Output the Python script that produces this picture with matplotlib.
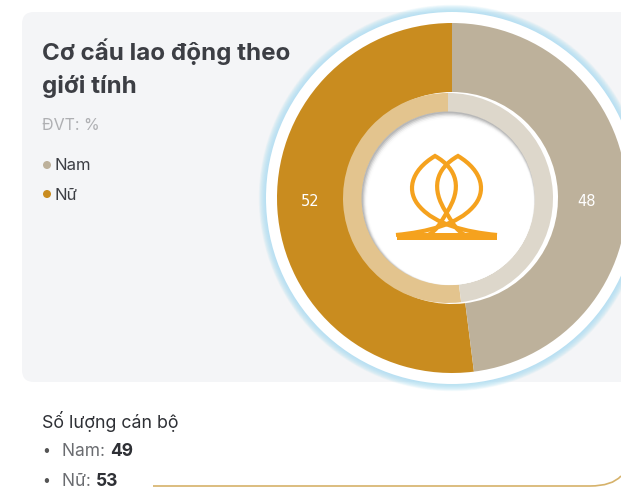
import matplotlib
matplotlib.use("Agg")
import matplotlib.pyplot as plt
from matplotlib.patches import Circle, FancyBboxPatch, PathPatch, Rectangle
from matplotlib.path import Path

# data
genders = ["Nữ", "Nam"]
shares = [52, 48]
counts = {"Nam": 49, "Nữ": 53}
outer_colors = ["#C98C1F", "#BDB19B"]
inner_colors = ["#E3C48E", "#DDD7CB"]

W, H = 621, 489
CX, CY = 452, 199  # donut centre in pixels
IN_DX = -4         # inner ring sits a little left of the outer ring

plt.rcParams["font.family"] = ["Inter", "DejaVu Sans"]
fig = plt.figure(figsize=(W / 100, H / 100), dpi=100)
fig.patch.set_facecolor("white")

# background axes, pixel coordinates
bg = fig.add_axes([0, 0, 1, 1])
bg.set_xlim(0, W)
bg.set_ylim(H, 0)
bg.axis("off")

card = FancyBboxPatch((22, 13), 640, 370, boxstyle="round,pad=0,rounding_size=12",
                      fc="#F4F5F7", ec="none")
bg.add_patch(card)

dark = "#3C3E44"
bg.text(42, 52, "Cơ cấu lao động theo", fontsize=17.4, fontweight="bold", color=dark, va="center")
bg.text(42, 87, "giới tính", fontsize=17.4, fontweight="bold", color=dark, va="center")
bg.text(42, 126, "ĐVT: %", fontsize=11.5, color="#AEAFB2", va="center")
for i, (name, col) in enumerate(zip(["Nam", "Nữ"], outer_colors[::-1])):
    y = 166 + i * 29
    bg.add_patch(Circle((47, y), 4, fc=col, ec="none"))
    bg.text(54, y, name, fontsize=12, color=dark, va="center")

bg.text(42, 421, "Số lượng cán bộ", fontsize=12.8, color="#2E3035", va="center")
for i, name in enumerate(["Nam", "Nữ"]):
    y = 451 + i * 30
    bg.text(46, y, "•", fontsize=10, color="#555", va="center", ha="center")
    t = bg.text(62, y, f"{name}: ", fontsize=12.5, color="#6A6C70", va="center")
    bg.annotate(str(counts[name]), xycoords=t, xy=(1, 0.5), va="center",
                fontsize=12.5, fontweight="bold", color="#2E3035")

line = Path([(153, 487), (590, 487), (612, 487), (621, 477)],
            [Path.MOVETO, Path.LINETO, Path.CURVE3, Path.CURVE3])
bg.add_patch(PathPatch(line, fc="none", ec="#D6B26A", lw=1.2))

# donut axes, centred on the donut, pixel units
R = 200
ax = fig.add_axes([(CX - R) / W, 1 - (CY + R) / H, 2 * R / W, 2 * R / H])
ax.set_aspect("equal")
ax.axis("off")

for k in range(12, 0, -1):
    ax.add_patch(Circle((0, 0), 186 + k * 0.6, fc="#A9DDF2", ec="none", alpha=0.11))
ax.add_patch(Circle((0, 0), 186, fc="white", ec="none"))

ax.pie(shares, radius=175, startangle=90, counterclock=True, colors=outer_colors,
       wedgeprops=dict(width=69, linewidth=0), center=(0, 0), frame=False)
ax.pie(shares, radius=105, startangle=90, counterclock=True, colors=inner_colors,
       wedgeprops=dict(width=19, linewidth=0), center=(IN_DX, 0), frame=False)
ax.set_xlim(-R, R)
ax.set_ylim(-R, R)

# inset shadow of the centre
ax.add_patch(Circle((IN_DX, 0), 86.5, fc="#B8B8B8", ec="none"))
for k, a in enumerate([0.3, 0.45, 0.6, 0.8, 1.0]):
    ax.add_patch(Circle((IN_DX + 0.8 + k * 0.4, -1.2 - k * 0.6), 86 - k * 0.7,
                        fc="white", ec="none", alpha=a))

ax.text(-142, -3, str(shares[0]), color="white", fontsize=10.5, ha="center", va="center",
        fontfamily="DejaVu Sans")
ax.text(135, -3, str(shares[1]), color="white", fontsize=10.5, ha="center", va="center",
        fontfamily="DejaVu Sans")


# logo
def px(p):
    return (p[0] - CX, CY - p[1])


def loop(pts):
    codes = [Path.MOVETO] + [Path.CURVE4] * (len(pts) - 1)
    return Path([px(p) for p in pts], codes)


left_loop = [(497, 236), (465, 233), (435, 225), (420, 208),
             (406, 193), (410, 172), (435, 157),
             (458, 170), (462, 190), (447, 213),
             (440, 225), (436, 232), (428, 236)]
right_loop = [(893 - x, y) for x, y in left_loop]
logo_col = "#F5A21E"
for pts in (left_loop, right_loop):
    ax.add_patch(PathPatch(loop(pts), fc="none", ec=logo_col, lw=3.0,
                           capstyle="butt", joinstyle="miter"))
bx0, by0 = px((397, 241))
ax.add_patch(Rectangle((bx0, by0), 100, 7, fc=logo_col, ec="none"))

fig.savefig("out.png", dpi=100)
